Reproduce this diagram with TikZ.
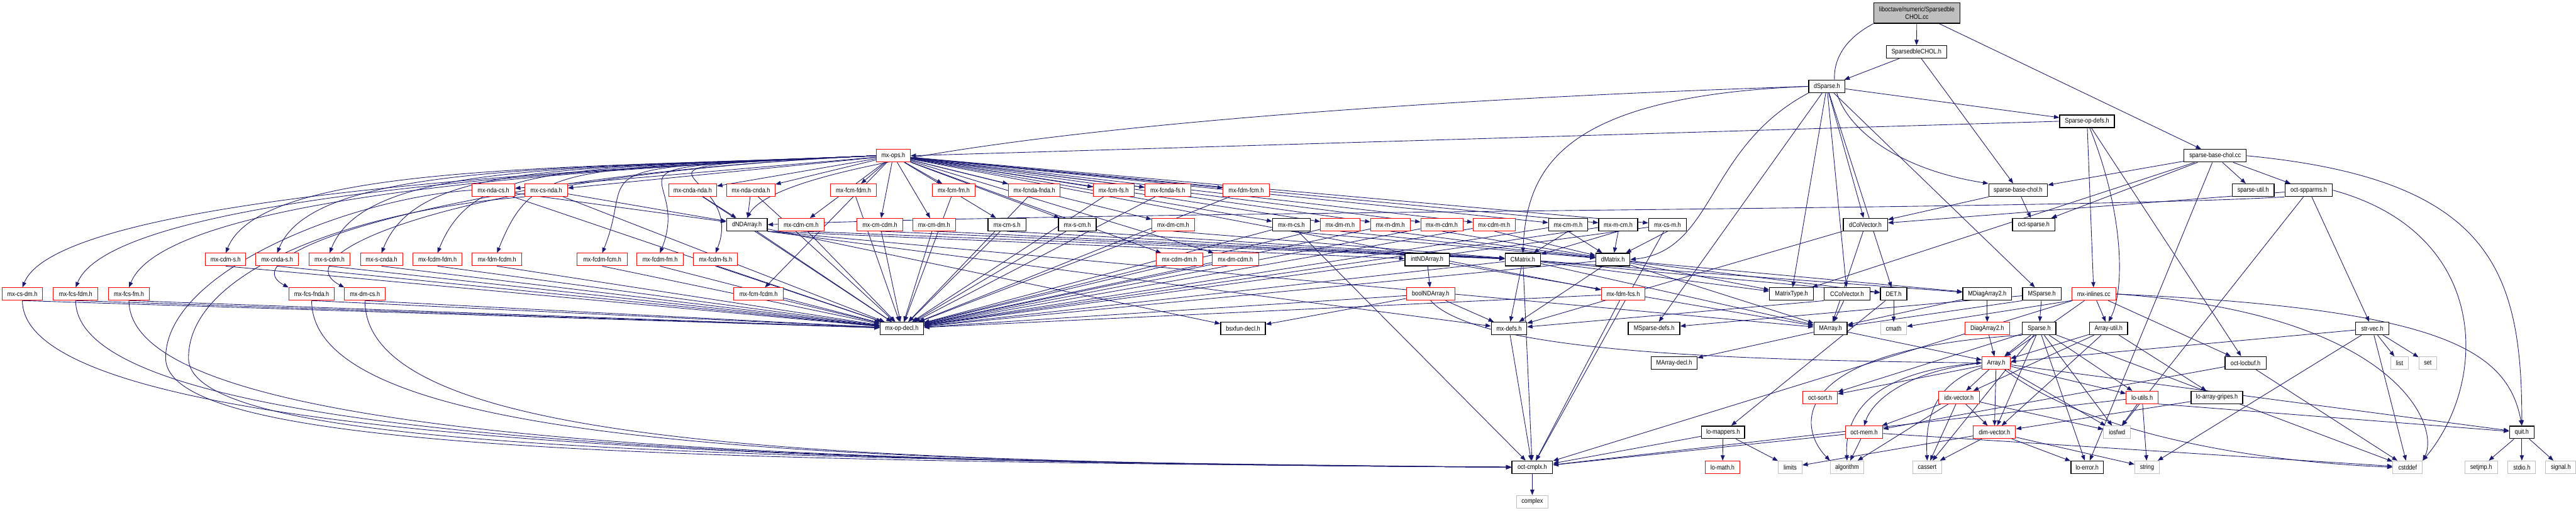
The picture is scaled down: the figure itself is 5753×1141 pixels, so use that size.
\documentclass[tikz,border=0pt]{standalone}
\usepackage{fontspec}
\setmainfont{Liberation Sans}[FakeStretch=0.87]
\usetikzlibrary{arrows.meta,backgrounds}
\definecolor{eb}{RGB}{25,25,112}
\definecolor{gb}{RGB}{191,191,191}
\tikzset{
 nb/.style={draw, fill=white, inner sep=0pt, minimum height=0.28cm, font=\fontsize{4.2}{4.9}\selectfont, line width=0.4pt},
 blk/.style={nb, draw=black, line width=0.55pt},
 rd/.style={nb, draw=red},
 gy/.style={nb, draw=gb},
 mainn/.style={nb, draw=black, line width=0.55pt, fill=gb, minimum height=0.46cm, align=center},
 ed/.style={draw=eb, line width=0.35pt, -{Triangle[length=3.4pt,width=2.6pt]}},
}
\newcommand\nd[6]{\node[#1, minimum width=#5*0.01cm] (#2) at (#3,-#4) {#6};}
\begin{document}
\begin{tikzpicture}[x=0.01cm,y=0.01cm]
\useasboundingbox (0,0) rectangle (5753,-1141);
% ---------- nodes ----------
\nd{mainn}{M}{4281}{29}{193}{liboctave/numeric/Sparsedble\\CHOL.cc}
\nd{blk}{SC}{4280}{116}{135}{SparsedbleCHOL.h}
\nd{blk}{DS}{4080}{193}{81}{dSparse.h}
\nd{blk}{SOD}{4661}{271}{122}{Sparse-op-defs.h}
\nd{rd}{ops}{1995}{348}{76}{mx-ops.h}
\nd{blk}{sbcc}{4947}{348}{139}{sparse-base-chol.cc}
% row 425
\nd{rd}{ndacs}{1102}{425}{95}{mx-nda-cs.h}
\nd{rd}{csnda}{1220}{425}{95}{mx-cs-nda.h}
\nd{rd}{cndanda}{1547}{425}{107}{mx-cnda-nda.h}
\nd{rd}{ndacnda}{1677}{425}{108}{mx-nda-cnda.h}
\nd{rd}{fcmfdm}{1906}{425}{103}{mx-fcm-fdm.h}
\nd{rd}{fcmfm}{2130}{425}{96}{mx-fcm-fm.h}
\nd{rd}{fcndafnda}{2310}{425}{116}{mx-fcnda-fnda.h}
\nd{rd}{fcmfs}{2487}{425}{91}{mx-fcm-fs.h}
\nd{rd}{fcndafs}{2608}{425}{102}{mx-fcnda-fs.h}
\nd{rd}{fdmfcm}{2783}{425}{103}{mx-fdm-fcm.h}
\nd{blk}{sbch}{4507}{425}{131}{sparse-base-chol.h}
\nd{blk}{sputil}{5032}{425}{94}{sparse-util.h}
\nd{blk}{spparms}{5156}{425}{106}{oct-spparms.h}
% row 502
\nd{blk}{dnda}{1668}{502}{91}{dNDArray.h}
\nd{rd}{cdmcm}{1789}{502}{102}{mx-cdm-cm.h}
\nd{rd}{cmcdm}{1965}{502}{102}{mx-cm-cdm.h}
\nd{rd}{cmdm}{2086}{502}{95}{mx-cm-dm.h}
\nd{blk}{cms}{2249}{502}{85}{mx-cm-s.h}
\nd{blk}{scm}{2406}{502}{84}{mx-s-cm.h}
\nd{rd}{dmcm}{2620}{502}{95}{mx-dm-cm.h}
\nd{blk}{mcs}{2884}{502}{84}{mx-m-cs.h}
\nd{rd}{dmm}{2993}{502}{88}{mx-dm-m.h}
\nd{rd}{mdm}{3105}{502}{88}{mx-m-dm.h}
\nd{rd}{mcdm}{3220}{502}{94}{mx-m-cdm.h}
\nd{rd}{cdmm}{3337}{502}{95}{mx-cdm-m.h}
\nd{blk}{cmm}{3502}{502}{87}{mx-cm-m.h}
\nd{blk}{mcm}{3614}{502}{87}{mx-m-cm.h}
\nd{blk}{csm}{3724}{502}{84}{mx-cs-m.h}
\nd{blk}{dcv}{4166}{502}{99}{dColVector.h}
\nd{blk}{ocsp}{4542}{502}{95}{oct-sparse.h}
% row 580
\nd{rd}{cdms}{504}{580}{90}{mx-cdm-s.h}
\nd{rd}{cndas}{619}{580}{95}{mx-cnda-s.h}
\nd{rd}{scdm}{736}{580}{90}{mx-s-cdm.h}
\nd{rd}{scnda}{852}{580}{94}{mx-s-cnda.h}
\nd{rd}{fcdmfdm}{977}{580}{110}{mx-fcdm-fdm.h}
\nd{rd}{fdmfcdm}{1110}{580}{111}{mx-fdm-fcdm.h}
\nd{rd}{fcdmfcm}{1345}{580}{112}{mx-fcdm-fcm.h}
\nd{rd}{fcdmfm}{1474}{580}{103}{mx-fcdm-fm.h}
\nd{rd}{fcdmfs}{1598}{580}{99}{mx-fcdm-fs.h}
\nd{rd}{cdmdm}{2634}{580}{103}{mx-cdm-dm.h}
\nd{rd}{dmcdm}{2759}{580}{103}{mx-dm-cdm.h}
\nd{blk}{intnda}{3187}{580}{99}{intNDArray.h}
\nd{blk}{CM}{3401}{580}{79}{CMatrix.h}
\nd{blk}{dM}{3602}{580}{76}{dMatrix.h}
% row 657
\nd{rd}{csdm}{50}{657}{91}{mx-cs-dm.h}
\nd{rd}{fcsfdm}{169}{657}{100}{mx-fcs-fdm.h}
\nd{rd}{fcsfm}{288}{657}{92}{mx-fcs-fm.h}
\nd{rd}{fcsfnda}{696}{657}{102}{mx-fcs-fnda.h}
\nd{rd}{dmcs}{815}{657}{91}{mx-dm-cs.h}
\nd{rd}{fcmfcdm}{1694}{657}{111}{mx-fcm-fcdm.h}
\nd{rd}{boolnda}{3195}{657}{108}{boolNDArray.h}
\nd{rd}{fdmfcs}{3625}{657}{98}{mx-fdm-fcs.h}
\nd{blk}{mtype}{4001}{657}{98}{MatrixType.h}
\nd{blk}{ccv}{4125}{657}{102}{CColVector.h}
\nd{blk}{DET}{4229}{657}{59}{DET.h}
\nd{blk}{mdiag}{4438}{657}{109}{MDiagArray2.h}
\nd{blk}{msp}{4560}{657}{86}{MSparse.h}
\nd{rd}{inl}{4676}{657}{98}{mx-inlines.cc}
% row 734
\nd{blk}{opdecl}{2014}{734}{97}{mx-op-decl.h}
\nd{blk}{bsx}{2776}{734}{100}{bsxfun-decl.h}
\nd{blk}{mxdefs}{3370}{734}{79}{mx-defs.h}
\nd{blk}{mspdefs}{3694}{734}{115}{MSparse-defs.h}
\nd{blk}{MA}{4088}{734}{74}{MArray.h}
\nd{gy}{cmath}{4229}{734}{58}{cmath}
\nd{rd}{diag}{4438}{734}{99}{DiagArray2.h}
\nd{blk}{SP}{4554}{734}{75}{Sparse.h}
\nd{blk}{autil}{4709}{734}{85}{Array-util.h}
\nd{blk}{strvec}{5298}{734}{74}{str-vec.h}
% row 811
\nd{blk}{madecl}{3739}{811}{102}{MArray-decl.h}
\nd{rd}{AR}{4458}{811}{63}{Array.h}
\nd{blk}{locbuf}{5015}{811}{92}{oct-locbuf.h}
\nd{gy}{list}{5359}{811}{40}{list}
\nd{gy}{set}{5422}{811}{40}{set}
% row 888
\nd{rd}{osort}{4065}{888}{77}{oct-sort.h}
\nd{rd}{idx}{4375}{888}{91}{idx-vector.h}
\nd{rd}{loutils}{4784}{888}{71}{lo-utils.h}
\nd{blk}{gripes}{4951}{888}{115}{lo-array-gripes.h}
% row 966
\nd{blk}{lomap}{3848}{966}{96}{lo-mappers.h}
\nd{rd}{omem}{4163}{966}{83}{oct-mem.h}
\nd{rd}{dimv}{4454}{966}{95}{dim-vector.h}
\nd{gy}{iosfwd}{4728}{966}{60}{iosfwd}
\nd{blk}{quit}{5632}{966}{55}{quit.h}
% row 1044
\nd{blk}{cmplx}{3422}{1044}{91}{oct-cmplx.h}
\nd{rd}{lomath}{3847}{1044}{77}{lo-math.h}
\nd{gy}{limits}{3998}{1044}{53}{limits}
\nd{gy}{algo}{4125}{1044}{75}{algorithm}
\nd{gy}{cassert}{4304}{1044}{64}{cassert}
\nd{blk}{loerr}{4661}{1044}{72}{lo-error.h}
\nd{gy}{string}{4795}{1044}{55}{string}
\nd{gy}{cstddef}{5377}{1044}{66}{cstddef}
\nd{gy}{setjmp}{5541}{1044}{73}{setjmp.h}
\nd{gy}{stdio}{5632}{1044}{62}{stdio.h}
\nd{gy}{signal}{5719}{1044}{67}{signal.h}
\nd{gy}{complex}{3422}{1121}{71}{complex}
% ---------- edges ----------
\begin{scope}[on background layer]
\draw[ed] (M) -- (SC);
\draw[ed] (M.south west) .. controls (4000,-150) and (4120,-360) .. (sbch.north west);
\draw[ed] (M) -- (sbcc);
\draw[ed] (SC) -- (DS);
\draw[ed] (SC) -- (sbch);
% dSparse
\foreach \a in {SOD,dcv,mtype,ccv,DET,msp,mspdefs} \draw[ed] (DS) -- (\a);
\draw[ed] (DS.west) .. controls (3480,-215) and (3410,-380) .. (CM.north);
\draw[ed] (DS.south west) .. controls (3810,-330) and (3830,-560) .. (dM.east);
\draw[ed] (DS.west) .. controls (2900,-230) and (1760,-330) .. (dnda.north);
% Sparse-op-defs
\draw[ed] (SOD.west) -- (ops.east);
\draw[ed] (SOD) -- (inl);
\draw[ed] (SOD) .. controls (4745,-480) and (4745,-650) .. (autil.north);
\draw[ed] (SOD) -- (locbuf);
% sparse-base-chol
\foreach \a in {sbch,sputil,spparms,ocsp,mtype,loerr} \draw[ed] (sbcc) -- (\a);
\draw[ed] (sbcc.east) .. controls (5560,-400) and (5632,-600) .. (quit.north);
\draw[ed] (sbch) -- (dcv);
\draw[ed] (sbch) -- (ocsp);
% oct-spparms
\foreach \a in {dcv,strvec,iosfwd} \draw[ed] (spparms) -- (\a);
\draw[ed] (spparms.east) .. controls (5560,-520) and (5560,-850) .. (cstddef.north east);
\draw[ed] (spparms.south west) .. controls (4600,-470) and (2500,-470) .. (dnda.east);
% mx-ops
\foreach \a in {ndacs,csnda,cndanda,ndacnda,fcmfdm,fcmfm,fcndafnda,fcmfs,fcndafs,fdmfcm,
  cdmcm,cmcdm,cmdm,cms,scm,dmcm,mcs,dmm,mdm,mcdm,cdmm,cmm,mcm,csm,cdmdm,dmcdm,fcmfcdm,fdmfcs}
  \draw[ed] (ops) -- (\a);
\foreach \a in {cdms,cndas,scdm,scnda,fcdmfdm,fdmfcdm,fcdmfcm,fcdmfm,fcdmfs,csdm,fcsfdm,fcsfm}
  \draw[ed] (ops.west) .. controls +(-700,-30) and +(80,200) .. (\a.north);
\foreach \a in {fcsfnda,dmcs}
  \draw[ed] (ops.west) .. controls +(-900,-40) and +(-150,80) .. (\a.north west);
% mx -> mx-op-decl
\foreach \a in {ndacs,csnda,cndanda,ndacnda,fcmfdm,fcmfm,fcndafnda,fcmfs,fcndafs,fdmfcm,
  cdmcm,cmcdm,cmdm,cms,scm,dmcm,mcs,dmm,mdm,mcdm,cdmm,cmm,mcm,csm,cdmdm,dmcdm,fcmfcdm,fdmfcs}
  \draw[ed] (\a) -- (opdecl);
\foreach \a in {cdms,cndas,scdm,scnda,fcdmfdm,fdmfcdm,fcdmfcm,fcdmfm,fcdmfs,csdm,fcsfdm,fcsfm,fcsfnda,dmcs}
  \draw[ed] (\a.south) -- (opdecl);
% type headers
\foreach \a in {ndacs,csnda,cndanda,ndacnda} \draw[ed] (\a) -- (dnda);
\foreach \a in {cdmcm,cmcdm,cmdm,cms,scm,dmcm,cmm,mcm} \draw[ed] (\a.south) -- (CM);
\foreach \a in {mcs,dmm,mdm,mcdm,cdmm,cmm,mcm,csm} \draw[ed] (\a.south) -- (dM);
\foreach \a in {mcs,csm,fdmfcs,CM,mxdefs,lomap,loutils,omem,inl} \draw[ed] (\a) -- (cmplx);
\foreach \a in {csdm,fcsfdm,fcsfm,fcsfnda,dmcs}
  \draw[ed] (\a.south) .. controls +(0,-330) and +(-1500,10) .. (cmplx.west);
\draw[ed] (ndacs.west) .. controls (800,-440) and (370,-600) .. (370,-800) .. controls (370,-1010) and (1500,-1030) .. (cmplx.west);
\draw[ed] (csnda.south west) .. controls (800,-470) and (421,-600) .. (421,-800) .. controls (421,-1000) and (1500,-1025) .. (cmplx.west);
% dNDArray, boolNDArray, intNDArray
\draw[ed] (dnda.south east) -- (intnda);
\draw[ed] (dnda.south east) -- (mxdefs);
\draw[ed] (dnda.south east) -- (MA);
\draw[ed] (dnda) -- (bsx);
\draw[ed] (dnda) -- (opdecl);
\draw[ed] (intnda) -- (boolnda);
\draw[ed] (intnda) -- (MA);
\foreach \a in {mxdefs,bsx,opdecl} \draw[ed] (boolnda) -- (\a);
\draw[ed] (boolnda.south) .. controls (3300,-790) and (3900,-805) .. (AR.west);
% CMatrix, dMatrix
\foreach \a in {CM,dM} {
  \foreach \b in {mxdefs,MA,mdiag,mtype,DET,opdecl} \draw[ed] (\a) -- (\b);
}
\draw[ed] (dcv) -- (MA);
\draw[ed] (dcv) -- (mxdefs);
\draw[ed] (ccv) -- (MA);
\draw[ed] (ccv.south west) -- (mxdefs);
\draw[ed] (DET) -- (cmath);
\draw[ed] (DET) -- (lomap);
\draw[ed] (mdiag) -- (diag);
\draw[ed] (mdiag) -- (MA);
\draw[ed] (msp) -- (SP);
\draw[ed] (msp.south west) -- (MA);
\draw[ed] (msp) -- (mspdefs);
\draw[ed] (diag) -- (AR);
\draw[ed] (MA) -- (AR);
\draw[ed] (MA) -- (madecl);
\draw[ed] (SP) -- (AR);
\draw[ed] (autil) -- (AR);
\draw[ed] (inl) -- (AR);
\draw[ed] (inl) -- (autil);
\draw[ed] (inl.south west) -- (cmath);
\draw[ed] (inl) -- (locbuf);
\draw[ed] (inl.east) .. controls (5450,-690) and (5600,-780) .. (quit.north);
\draw[ed] (inl.east) .. controls (5350,-700) and (5450,-950) .. (cstddef.north east);
\draw[ed] (strvec) -- (AR);
% Sparse.h
\foreach \a in {dimv,loerr,iosfwd,loutils,osort,cassert,cstddef} \draw[ed] (SP) -- (\a);
\draw[ed] (SP.south west) .. controls (4000,-780) and (4010,-950) .. (algo.north west);
% Array.h
\foreach \a in {osort,idx,dimv,iosfwd,loutils,quit} \draw[ed] (AR) -- (\a);
\draw[ed] (AR.west) .. controls (4150,-830) and (4120,-950) .. (algo.north);
\draw[ed] (AR) .. controls (4310,-860) and (4300,-950) .. (cassert.north);
\draw[ed] (AR.west) .. controls (4250,-830) and (4180,-900) .. (omem.north);
\draw[ed] (AR) .. controls (4650,-960) and (5000,-1030) .. (cstddef.west);
% lower levels
\foreach \a in {dimv,omem,algo,cassert,iosfwd} \draw[ed] (idx) -- (\a);
\foreach \a in {cassert,loerr,string,limits} \draw[ed] (dimv) -- (\a);
\draw[ed] (omem) -- (algo);
\draw[ed] (omem) -- (cstddef);
\draw[ed] (loutils) -- (iosfwd);
\draw[ed] (loutils) -- (string);
\draw[ed] (loutils.south east) -- (quit);
\draw[ed] (lomap) -- (lomath);
\draw[ed] (lomap) -- (limits);
\foreach \a in {list,set,string,cstddef} \draw[ed] (strvec) -- (\a);
\draw[ed] (locbuf) -- (cstddef);
\draw[ed] (locbuf) -- (omem);
\foreach \a in {idx,dimv,gripes} \draw[ed] (autil) -- (\a);
\draw[ed] (gripes) -- (dimv);
\foreach \a in {setjmp,stdio,signal} \draw[ed] (quit) -- (\a);
\draw[ed] (cmplx) -- (complex);
\end{scope}
\end{tikzpicture}
\end{document}
